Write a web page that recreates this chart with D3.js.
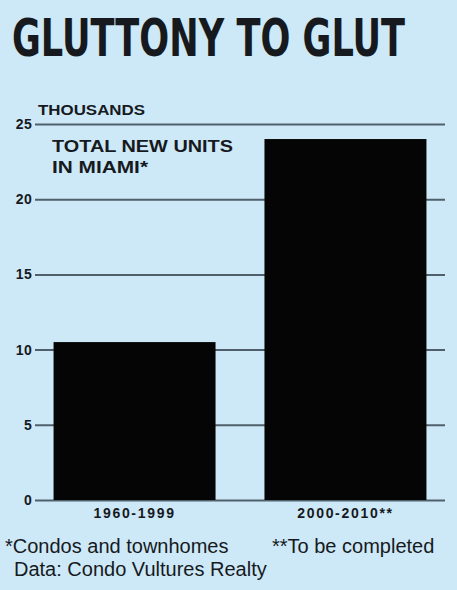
<!DOCTYPE html>
<html><head><meta charset="utf-8">
<script src="https://cdn.jsdelivr.net/npm/d3@7"></script>
<style>html,body{margin:0;padding:0;background:#cde8f6;}svg{display:block;}</style>
</head><body>
<script>
const categories = ["1960-1999", "2000-2010**"];
const values = [10.5, 24];
const tickValues = [0, 5, 10, 15, 20, 25];
const title = "GLUTTONY TO GLUT";
const unitLabel = "THOUSANDS";
const chartLabel = ["TOTAL NEW UNITS", "IN MIAMI*"];
const notes = ["*Condos and townhomes", "**To be completed", "Data: Condo Vultures Realty"];

const W = 457, H = 590;
const svg = d3.select("body").append("svg").attr("width", W).attr("height", H);
svg.append("rect").attr("width", W).attr("height", H).attr("fill", "#cde8f6");

const ink = "#161a1e";
const sans = "Liberation Sans, Arial, sans-serif";
const y = d3.scaleLinear().domain([0, 25]).range([500, 124]);
const x = d3.scaleBand().domain(categories).range([35, 445]).paddingInner(0.232).paddingOuter(0.088);

// title
svg.append("text").attr("transform", "translate(12,56) scale(1,1.3)")
  .attr("font-family", "'DejaVu Sans Condensed', 'Liberation Sans Narrow', sans-serif")
  .attr("font-weight", "bold").attr("font-size", 40).attr("fill", ink)
  .attr("textLength", 393).attr("lengthAdjust", "spacingAndGlyphs")
  .text(title);

// gridlines
const yAxis = d3.axisLeft(y).tickValues(tickValues).tickSize(-(445 - 35)).tickPadding(3);
const gy = svg.append("g").attr("transform", "translate(35,0)").call(yAxis);
gy.select(".domain").remove();
gy.selectAll(".tick line").attr("stroke", "#50606b").attr("stroke-width", 2);
gy.selectAll(".tick text").attr("font-family", sans)
  .attr("font-weight", "bold").attr("font-size", 14).attr("letter-spacing", 0.3).attr("fill", ink);

// bars
svg.selectAll("rect.bar").data(values).enter().append("rect").attr("class", "bar")
  .attr("x", (d, i) => x(categories[i])).attr("width", x.bandwidth())
  .attr("y", d => y(d)).attr("height", d => y(0) - y(d)).attr("fill", "#050505");

// x labels
const xAxis = d3.axisBottom(x).tickSize(0).tickPadding(0);
const gx = svg.append("g").attr("transform", "translate(0,500)").call(xAxis);
gx.select(".domain").remove();
gx.selectAll(".tick text").attr("y", 18).attr("dy", null)
  .attr("font-family", sans).attr("font-weight", "bold").attr("font-size", 14)
  .attr("letter-spacing", 1.7).attr("fill", ink);

// units
svg.append("text").attr("x", 38).attr("y", 115)
  .attr("font-family", sans).attr("font-weight", "bold")
  .attr("font-size", 14).attr("textLength", 107).attr("lengthAdjust", "spacingAndGlyphs")
  .attr("fill", ink).text(unitLabel);

const labelWidths = [181, 96];
chartLabel.forEach((t, i) => {
  svg.append("text").attr("x", 52).attr("y", 152 + i * 21)
    .attr("font-family", sans).attr("font-weight", "bold")
    .attr("font-size", 16.5).attr("textLength", labelWidths[i]).attr("lengthAdjust", "spacingAndGlyphs")
    .attr("fill", ink).text(t);
});

// notes
svg.append("text").attr("x", 5).attr("y", 553).attr("font-family", sans)
  .attr("font-size", 20).attr("fill", ink).text(notes[0]);
svg.append("text").attr("x", 272).attr("y", 553).attr("font-family", sans)
  .attr("font-size", 20).attr("fill", ink).text(notes[1]);
svg.append("text").attr("x", 14).attr("y", 576).attr("font-family", sans)
  .attr("font-size", 20).attr("fill", ink).text(notes[2]);
</script>
</body></html>
